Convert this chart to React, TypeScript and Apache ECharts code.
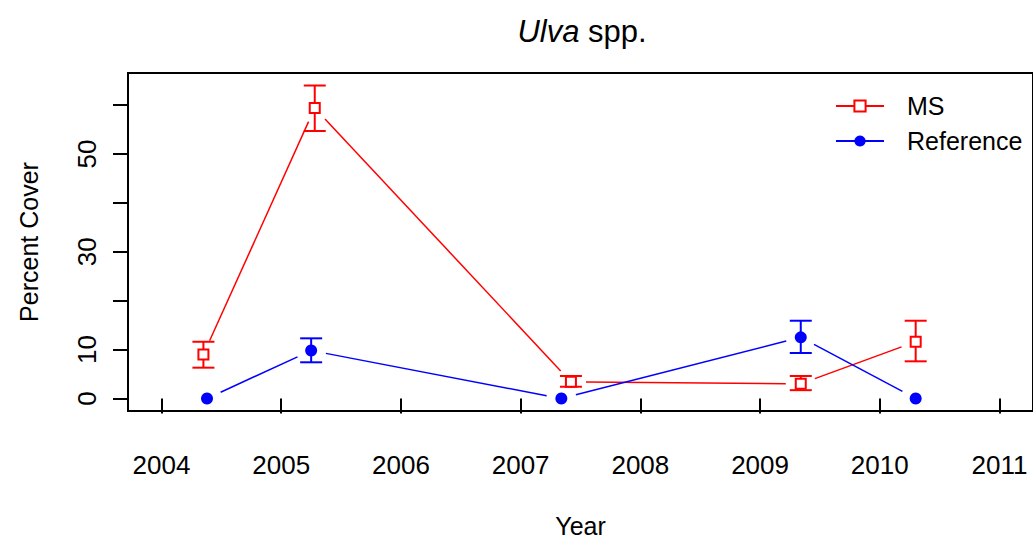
import React, { useEffect, useRef } from "react";
import * as echarts from "echarts";

// ---- data ----
const yearTicks = [2004, 2005, 2006, 2007, 2008, 2009, 2010, 2011];
const yTicks = [0, 10, 20, 30, 40, 50, 60];
const yLabels = [0, 10, 30, 50];

const msX = [2004.35, 2005.28, 2007.42, 2009.34, 2010.3];
const msMean = [9.0, 59.4, 3.4, 3.0, 11.6];
const msLow = [6.3, 54.7, 2.4, 1.7, 7.6];
const msHigh = [11.6, 64.0, 4.6, 4.6, 15.9];

const refX = [2004.38, 2005.25, 2007.34, 2009.34, 2010.3];
const refMean = [0, 9.8, 0, 12.5, 0];
const refLow: (number | null)[] = [null, 7.4, null, 9.3, null];
const refHigh: (number | null)[] = [null, 12.3, null, 15.9, null];

const RED = "#ff0000";
const BLUE = "#0000ff";
const FONT = "Liberation Sans, Arial, Helvetica, sans-serif";
const FS = 26;
const FS_NAME = 25;

function pairs(xs: number[], ys: number[]) {
  return xs.map((x, i) => [x, ys[i]]);
}
function segs(xs: number[], ys: number[]) {
  const out: number[][] = [];
  for (let i = 0; i < xs.length - 1; i++) out.push([xs[i], ys[i], xs[i + 1], ys[i + 1]]);
  return out;
}
function bars(xs: number[], lo: (number | null)[], hi: (number | null)[]) {
  const out: number[][] = [];
  xs.forEach((x, i) => {
    if (lo[i] != null && hi[i] != null) out.push([x, lo[i] as number, hi[i] as number]);
  });
  return out;
}

const GAP = 15;
function gapSegRender(color: string) {
  return (params: any, api: any) => {
    const p1 = api.coord([api.value(0), api.value(1)]);
    const p2 = api.coord([api.value(2), api.value(3)]);
    const dx = p2[0] - p1[0];
    const dy = p2[1] - p1[1];
    const len = Math.sqrt(dx * dx + dy * dy);
    if (len <= 2 * GAP) return null;
    const ux = dx / len, uy = dy / len;
    return {
      type: "line",
      shape: { x1: p1[0] + ux * GAP, y1: p1[1] + uy * GAP, x2: p2[0] - ux * GAP, y2: p2[1] - uy * GAP },
      style: { stroke: color, lineWidth: 1.5 },
    };
  };
}
function errRender(color: string) {
  return (params: any, api: any) => {
    const lo = api.coord([api.value(0), api.value(1)]);
    const hi = api.coord([api.value(0), api.value(2)]);
    const w = 11;
    const st = { stroke: color, lineWidth: 2 };
    return {
      type: "group",
      children: [
        { type: "line", shape: { x1: lo[0], y1: lo[1], x2: hi[0], y2: hi[1] }, style: st },
        { type: "line", shape: { x1: lo[0] - w, y1: lo[1], x2: lo[0] + w, y2: lo[1] }, style: st },
        { type: "line", shape: { x1: hi[0] - w, y1: hi[1], x2: hi[0] + w, y2: hi[1] }, style: st },
      ],
    };
  };
}

export default function App() {
  const ref = useRef<HTMLDivElement>(null);
  useEffect(() => {
    if (!ref.current) return;
    const chart = echarts.init(ref.current, null, { renderer: "svg" });
    chart.setOption({
      animation: false,
      backgroundColor: "#fff",
      textStyle: { fontFamily: FONT },
      title: {
        text: "{i|Ulva} spp.",
        left: 582,
        top: 16,
        padding: 0,
        textAlign: "center",
        textStyle: {
          fontFamily: FONT,
          fontSize: 31,
          fontWeight: "normal",
          color: "#000",
          rich: { i: { fontStyle: "italic", fontSize: 31, fontFamily: FONT, color: "#000" } },
        },
      },
      legend: {
        orient: "vertical",
        left: 835,
        top: 93,
        padding: 0,
        itemWidth: 48,
        itemHeight: 14,
        itemGap: 9,
        textStyle: { fontFamily: FONT, fontSize: FS_NAME, color: "#000", lineHeight: 26, padding: [0, 0, 0, 18] },
        data: [
          { name: "MS", lineStyle: { width: 2, color: RED, opacity: 1 } },
          { name: "Reference", lineStyle: { width: 2, color: BLUE, opacity: 1 } },
        ],
      },
      grid: {
        left: 128,
        top: 73,
        width: 907,
        height: 342,
        show: true,
        borderColor: "#000",
        borderWidth: 2,
        backgroundColor: "transparent",
      },
      xAxis: {
        type: "value",
        min: 2003.72,
        max: 2011.28,
        name: "Year",
        nameLocation: "middle",
        nameGap: 102,
        nameTextStyle: { fontFamily: FONT, fontSize: FS_NAME, color: "#000", verticalAlign: "top" },
        splitLine: { show: false },
        axisLine: { show: false },
        axisTick: { show: true, length: 15, inside: false, lineStyle: { color: "#000", width: 2 }, customValues: yearTicks },
        axisLabel: {
          margin: 41,
          fontFamily: FONT,
          fontSize: FS,
          color: "#000",
          customValues: yearTicks,
          formatter: (v: number) => String(Math.round(v)),
        },
      },
      yAxis: {
        type: "value",
        min: -2.56,
        max: 66.56,
        name: "Percent Cover",
        nameLocation: "middle",
        nameRotate: 90,
        nameGap: 87,
        nameTextStyle: { fontFamily: FONT, fontSize: FS_NAME, color: "#000" },
        splitLine: { show: false },
        axisLine: { show: false },
        axisTick: { show: true, length: 15, lineStyle: { color: "#000", width: 2 }, customValues: yTicks },
        axisLabel: {
          rotate: 90,
          margin: 28,
          fontFamily: FONT,
          fontSize: FS,
          color: "#000",
          customValues: yLabels,
          formatter: (v: number) => String(Math.round(v)),
        },
      },
      series: [
        {
          type: "custom",
          name: "msErr",
          renderItem: errRender(RED),
          data: bars(msX, msLow, msHigh),
          encode: { x: 0, y: [1, 2] },
          z: 1,
          silent: true,
        },
        {
          type: "custom",
          name: "refErr",
          renderItem: errRender(BLUE),
          data: bars(refX, refLow, refHigh),
          encode: { x: 0, y: [1, 2] },
          z: 1,
          silent: true,
        },
        {
          type: "custom",
          name: "msSeg",
          renderItem: gapSegRender(RED),
          data: segs(msX, msMean),
          encode: { x: [0, 2], y: [1, 3] },
          z: 2,
          silent: true,
        },
        {
          type: "custom",
          name: "refSeg",
          renderItem: gapSegRender(BLUE),
          data: segs(refX, refMean),
          encode: { x: [0, 2], y: [1, 3] },
          z: 2,
          silent: true,
        },
        {
          type: "line",
          name: "MS",
          data: pairs(msX, msMean),
          symbol: "rect",
          symbolSize: 10,
          itemStyle: { color: "#fff", borderColor: RED, borderWidth: 2 },
          lineStyle: { width: 0, opacity: 0, color: RED },
          z: 3,
        },
        {
          type: "line",
          name: "Reference",
          data: pairs(refX, refMean),
          symbol: "circle",
          symbolSize: 12,
          itemStyle: { color: BLUE, borderWidth: 0 },
          lineStyle: { width: 0, opacity: 0, color: BLUE },
          z: 3,
        },
      ],
    });
    return () => chart.dispose();
  }, []);
  return (
    <div
      ref={ref}
      style={{ position: "fixed", left: 0, top: 0, width: 1033, height: 543 }}
    />
  );
}
